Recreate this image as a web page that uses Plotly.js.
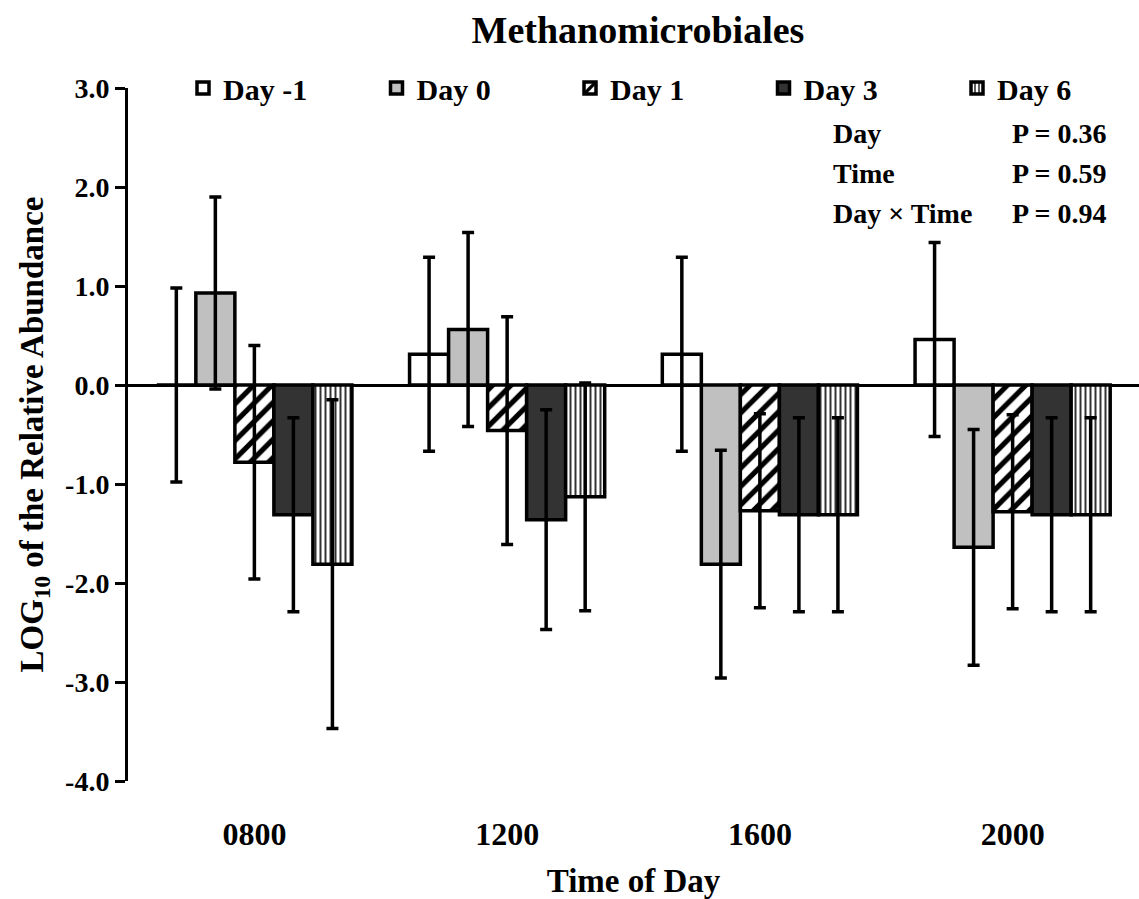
<!DOCTYPE html>
<html>
<head>
<meta charset="utf-8">
<script src="https://cdn.plot.ly/plotly-3.0.1.min.js"></script>
<style>html,body{margin:0;padding:0;background:#fff;}</style>
</head>
<body>
<div id="chart" style="width:1139px;height:899px;"></div>
<script>
var times = ["0800", "1200", "1600", "2000"];
var seriesNames = ["Day -1", "Day 0", "Day 1", "Day 3", "Day 6"];
var dayM1 = [0.00, 0.31, 0.31, 0.46];
var dayM1Err = [0.98, 0.98, 0.98, 0.98];
var day0 = [0.93, 0.56, -1.81, -1.64];
var day0Err = [0.97, 0.98, 1.15, 1.19];
var day1 = [-0.78, -0.46, -1.27, -1.28];
var day1Err = [1.18, 1.15, 0.98, 0.98];
var day3 = [-1.31, -1.36, -1.31, -1.31];
var day3Err = [0.98, 1.11, 0.98, 0.98];
var day6 = [-1.81, -1.13, -1.31, -1.31];
var day6Err = [1.66, 1.15, 0.98, 0.98];
var yTickVals = [3, 2, 1, 0, -1, -2, -3, -4];
var yTickText = ["3.0", "2.0", "1.0", "0.0", "-1.0", "-2.0", "-3.0", "-4.0"];
var statLabels = ["Day", "Time", "Day \u00d7 Time"];
var statP = ["P = 0.36", "P = 0.59", "P = 0.94"];

var FONT = "Liberation Serif, Times New Roman, serif";
var values = [dayM1, day0, day1, day3, day6];
var errs = [dayM1Err, day0Err, day1Err, day3Err, day6Err];
var fills = [
  {color: "#ffffff", pattern: {shape: ""}},
  {color: "#c0c0c0", pattern: {shape: ""}},
  {color: "#ffffff", pattern: {shape: "/", fgcolor: "#000000", bgcolor: "#ffffff", size: 13, solidity: 0.4}},
  {color: "#333333", pattern: {shape: ""}},
  {color: "#ffffff", pattern: {shape: "|", fgcolor: "#333333", bgcolor: "#ffffff", size: 5, solidity: 0.4}}
];

var traces = seriesNames.map(function (name, i) {
  return {
    type: "bar",
    name: "<b>" + name + "</b>",
    x: times,
    y: values[i],
    marker: {
      color: fills[i].color,
      pattern: fills[i].pattern,
      line: {color: "#000000", width: 3.5}
    },
    error_y: {type: "data", array: errs[i], visible: true, color: "#000000", thickness: 3.5, width: 6},
    hoverinfo: "skip"
  };
});

var annotations = [];
statLabels.forEach(function (lab, i) {
  annotations.push({
    xref: "paper", yref: "paper", x: (831 - 128) / 1011, y: 1 - (133 + 40 * i - 88) / 693,
    xanchor: "left", yanchor: "middle", showarrow: false,
    text: "<b>" + lab + "</b>", font: {family: FONT, size: 28, color: "#000"}
  });
  annotations.push({
    xref: "paper", yref: "paper", x: (1010 - 128) / 1011, y: 1 - (133 + 40 * i - 88) / 693,
    xanchor: "left", yanchor: "middle", showarrow: false,
    text: "<b>" + statP[i] + "</b>", font: {family: FONT, size: 28, color: "#000"}
  });
});

var layout = {
  width: 1139, height: 899,
  margin: {l: 128, r: 0, t: 88, b: 118, autoexpand: false},
  paper_bgcolor: "#ffffff", plot_bgcolor: "#ffffff",
  font: {family: FONT, color: "#000000"},
  barmode: "group",
  bargap: 0.228,
  bargroupgap: 0,
  title: {
    text: "<b>Methanomicrobiales</b>",
    font: {family: FONT, size: 38, color: "#000"},
    xref: "container", yref: "container", x: 638 / 1139, xanchor: "center",
    y: 1 - 30 / 899, yanchor: "middle"
  },
  xaxis: {
    type: "category",
    range: [-0.5, 3.5],
    showline: false, showgrid: false, zeroline: false,
    ticks: "", ticklabelstandoff: 31,
    tickfont: {family: FONT, size: 32, color: "#000"},
    tickprefix: "<b>", ticksuffix: "</b>",
    title: {text: "<b>Time of Day</b>", font: {family: FONT, size: 33, color: "#000"}, standoff: 20}
  },
  yaxis: {
    range: [-4, 3],
    tickmode: "array", tickvals: yTickVals,
    ticktext: yTickText.map(function (t) { return "<b>" + t + "</b>"; }),
    showline: true, linecolor: "#000", linewidth: 3,
    ticks: "outside", ticklen: 10, tickwidth: 3, tickcolor: "#000",
    showgrid: false,
    zeroline: true, zerolinecolor: "#000", zerolinewidth: 3,
    tickfont: {family: FONT, size: 28, color: "#000"},
    title: {text: "<b>LOG<sub>10</sub> of the Relative Abundance</b>", font: {family: FONT, size: 33, color: "#000"}, standoff: 12}
  },
  legend: {
    orientation: "h",
    x: (183 - 128) / 1011, xanchor: "left",
    y: 1.0, yanchor: "middle",
    font: {family: FONT, size: 30, color: "#000"},
    entrywidth: 148.5,
    itemwidth: 30,
    bgcolor: "rgba(0,0,0,0)",
    traceorder: "normal"
  },
  annotations: annotations,
  showlegend: true
};

Plotly.newPlot("chart", traces, layout, {staticPlot: true, displayModeBar: false});
</script>
</body>
</html>
